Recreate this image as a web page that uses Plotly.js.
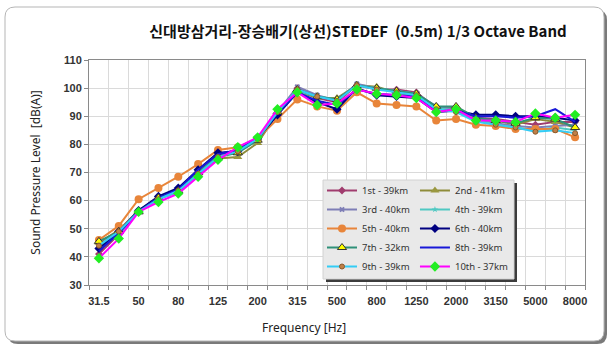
<!DOCTYPE html>
<html><head><meta charset="utf-8">
<script src="https://cdn.plot.ly/plotly-3.0.1.min.js"></script>
<style>html,body{margin:0;padding:0;background:#fff;}#chart{width:612px;height:348px;}</style>
</head><body><div id="chart"></div>
<script>
const freqs = ['31.5','40','50','63','80','100','125','160','200','250','315','400','500','630','800','1000','1250','1600','2000','2500','3150','4000','5000','6300','8000'];
const labeledFreqs = ['31.5','50','80','125','200','315','500','800','1250','2000','3150','5000','8000'];
const seriesNames = ['1st - 39km','2nd - 41km','3rd - 40km','4th - 39km','5th - 40km','6th - 40km','7th - 32km','8th - 39km','9th - 39km','10th - 37km'];
const s1st  = [41, 48, 56, 61, 63.5, 70.5, 76, 78, 82, 91, 100, 96.5, 95, 101, 99.5, 99.5, 98.5, 93, 93, 89.5, 89, 88, 87, 88, 88];
const s2nd  = [45, 49.5, 56.5, 61, 63, 69.5, 75, 75.5, 80.5, 91, 99, 96.5, 96.5, 101, 100.5, 98.5, 97, 93, 93, 89, 88.5, 87, 89, 88, 86];
const s3rd  = [44, 49, 56.5, 61, 64, 70.5, 76.5, 78, 82, 91.5, 100.5, 97.5, 95.5, 101.5, 100, 99, 98, 93.5, 92.5, 89, 87.5, 86.5, 86, 86.5, 87];
const s4th  = [43, 48, 56, 60.5, 63, 69.5, 75.5, 77.5, 82, 91.5, 99, 97, 96, 101, 100, 99, 98, 93, 92, 88.5, 87, 86, 85, 86, 85];
const s5th  = [46, 51, 60.5, 64.5, 68.5, 73, 78, 79, 82, 89, 96, 93.5, 92, 98.5, 94.5, 94, 93.5, 88.5, 89, 87, 86.5, 85.5, 85.5, 85.5, 82.5];
const s6th  = [43, 49, 56.5, 61.5, 64.5, 71, 77, 77.5, 82, 90.5, 98.5, 95, 92.5, 100, 97.5, 97, 96.5, 91.5, 92, 90.5, 90.5, 90, 90, 89.5, 88.5];
const s7th  = [45.5, 49, 56, 61, 63.5, 70, 75.5, 77, 81.5, 91.5, 99.5, 97, 96, 101, 100, 99, 98, 93.5, 93.5, 89.5, 88.5, 87.5, 89.5, 89, 86];
const s8th  = [42, 48.5, 56, 61, 64, 71, 76.5, 78, 82.5, 91, 98.5, 95.5, 94, 99.5, 98, 97.5, 97, 92, 92, 90, 90, 89.5, 90, 92.5, 88];
const s9th  = [44, 49, 56, 60.5, 63.5, 69.5, 75.5, 77.5, 82, 91.5, 99.5, 97, 95.5, 101, 99.5, 98.5, 97.5, 92.5, 91.5, 88, 87, 86, 84.5, 85, 84];
const s10th = [39.5, 46.5, 56, 59.5, 62.5, 68.5, 74.5, 79, 82.5, 92.5, 98.5, 94, 94.5, 99.5, 98, 97.5, 96.5, 91.5, 92.5, 88.5, 88.5, 88, 91, 89.5, 90.5];
const allSeries = [s1st, s2nd, s3rd, s4th, s5th, s6th, s7th, s8th, s9th, s10th];

const styles = [
  {line:'#A03C6E', m:{symbol:'diamond', size:6, color:'#A03C6E'}},
  {line:'#8E8C3A', m:{symbol:'triangle-up', size:8, color:'#9A9840'}},
  {line:'#7E7EB6', m:{symbol:'x', size:5, color:'#7E7EB6'}},
  {line:'#4FC8C2', m:{symbol:'star', size:5, color:'#4FC8C2'}},
  {line:'#E8853A', m:{symbol:'circle', size:8, color:'#E8853A'}},
  {line:'#000080', m:{symbol:'diamond', size:7, color:'#000080'}},
  {line:'#2F9078', m:{symbol:'triangle-up', size:8, color:'#FFFF00', line:{color:'#333', width:1}}},
  {line:'#1818D8', m:null},
  {line:'#33CCF5', m:{symbol:'circle', size:5, color:'#C08048', line:{color:'#8A5A2A', width:1}}},
  {line:'#FF00FF', m:{symbol:'diamond', size:8, color:'#22EE22'}}
];

const traces = allSeries.map((vals, i) => {
  const st = styles[i];
  const t = {
    type:'scatter', x: freqs, y: vals, name: seriesNames[i],
    legendgroup: (i % 2 === 0) ? 'colA' : 'colB',
    mode: st.m ? 'lines+markers' : 'lines',
    line: {color: st.line, width: 2},
    hoverinfo: 'skip'
  };
  if (st.m) t.marker = st.m;
  return t;
});

const W = 612, H = 348, L = 89, R = 27, T = 60, B = 63;
const PW = W - L - R, PH = H - T - B;
const px = x => (x - L) / PW;
const py = y => (H - B - y) / PH;
function rrect(x0, y0, x1, y1, r) {
  const rx = r / PW, ry = r / PH;
  const a = px(x0), b = px(x1), c = py(y0), d = py(y1);
  return `M${a+rx},${c} L${b-rx},${c} Q${b},${c} ${b},${c-ry} L${b},${d+ry} Q${b},${d} ${b-rx},${d} L${a+rx},${d} Q${a},${d} ${a},${d+ry} L${a},${c-ry} Q${a},${c} ${a+rx},${c} Z`;
}

const tickFont = {family:'Liberation Sans, Arial, sans-serif', size:11, weight:'bold', color:'#333'};

const layout = {
  width: W, height: H,
  margin: {l:L, r:R, t:T, b:B},
  paper_bgcolor:'#ffffff', plot_bgcolor:'#ffffff',
  showlegend: true,
  title: {
    text: '신대방삼거리-장승배기(상선)STEDEF\u00A0 (0.5m) 1/3 Octave Band',
    x: 358/W, xanchor:'center', y: 1 - 32/H, yanchor:'middle',
    font: {family:'Noto Sans CJK KR', size:15, weight:'bold', color:'#111'}
  },
  xaxis: {
    type:'category', categoryorder:'array', categoryarray: freqs,
    tickmode:'array', tickvals: freqs,
    ticktext: freqs.map(f => labeledFreqs.includes(f) ? f : ''),
    tickangle: 0, ticklabelstandoff: 6,
    tickson:'boundaries', ticks:'outside', ticklen:4, tickcolor:'#888',
    showgrid:true, gridcolor:'#dadada', gridwidth:1,
    showline:true, linecolor:'#8a8a8a', mirror:true,
    tickfont: tickFont, range:[-0.5, 24.5], fixedrange:true
  },
  yaxis: {
    range:[30,110], tick0:30, dtick:10, ticks:'outside', ticklen:4, tickcolor:'#888',
    showgrid:true, gridcolor:'#dadada', gridwidth:1, zeroline:false,
    showline:true, linecolor:'#8a8a8a', mirror:true,
    tickfont: tickFont, fixedrange:true,
    title: {text:'Sound Pressure Level \u00A0[dB(A)]', standoff:20, font:{family:'Noto Sans, sans-serif', size:12, color:'#222'}}
  },
  annotations: [
    {text:'Frequency [Hz]', xref:'paper', yref:'paper', x: px(304), y: py(327), xanchor:'center', yanchor:'middle',
     showarrow:false, font:{family:'Noto Sans, sans-serif', size:12, color:'#222'}}
  ],
  legend: {
    orientation:'h', traceorder:'grouped', tracegroupgap:0,
    x: px(322), xanchor:'left', y: py(176), yanchor:'top',
    bgcolor:'rgba(0,0,0,0)', borderwidth:0, itemwidth:30,
    font: {family:'Noto Sans, sans-serif', size:9.5, color:'#333'}
  },
  shapes: [
    {type:'path', xref:'paper', yref:'paper', layer:'below', path: rrect(8, 10, 607, 344, 10), fillcolor:'#7a7a7a', line:{width:0}},
    {type:'path', xref:'paper', yref:'paper', layer:'below', path: rrect(5, 7, 604, 341, 10), fillcolor:'#ffffff', line:{color:'#b5b5b5', width:1}},
    {type:'rect', xref:'paper', yref:'paper', layer:'above', x0: px(326), x1: px(517), y0: py(183), y1: py(282), fillcolor:'#3c3c3c', line:{width:0}},
    {type:'rect', xref:'paper', yref:'paper', layer:'above', x0: px(323), x1: px(514), y0: py(180), y1: py(279), fillcolor:'#e9e9e9', line:{color:'#d2d2d2', width:1}}
  ]
};

Plotly.newPlot('chart', traces, layout, {displayModeBar:false, staticPlot:true});
</script>
</body></html>
